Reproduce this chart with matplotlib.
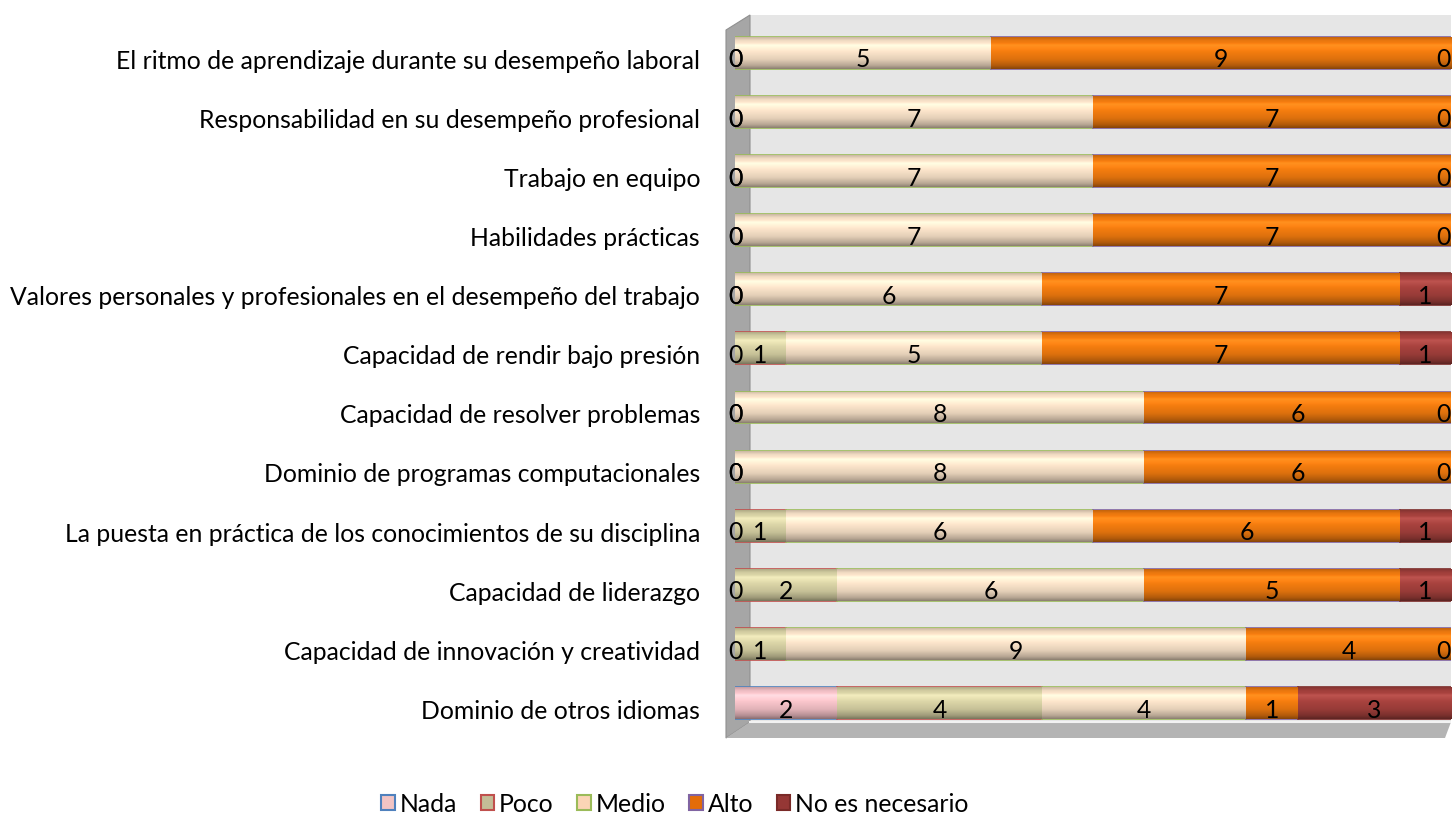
import numpy as np
import matplotlib
matplotlib.use('Agg')
import matplotlib.pyplot as plt
from matplotlib.patches import Patch, Polygon
from matplotlib.colors import to_rgb

plt.rcParams['font.family'] = ['Lato', 'DejaVu Sans']

# categories from top to bottom
categories = [
    'El ritmo de aprendizaje durante su desempeño laboral',
    'Responsabilidad en su desempeño profesional',
    'Trabajo en equipo',
    'Habilidades prácticas',
    'Valores personales y profesionales en el desempeño del trabajo',
    'Capacidad de rendir bajo presión',
    'Capacidad de resolver problemas',
    'Dominio de programas computacionales',
    'La puesta en práctica de los conocimientos de su disciplina',
    'Capacidad de liderazgo',
    'Capacidad de innovación y creatividad',
    'Dominio de otros idiomas',
]
series_names = ['Nada', 'Poco', 'Medio', 'Alto', 'No es necesario']
nada = [0, 0, 0, 0, 0, 0, 0, 0, 0, 0, 0, 2]
poco = [0, 0, 0, 0, 0, 1, 0, 0, 1, 2, 1, 4]
medio = [5, 7, 7, 7, 6, 5, 8, 8, 6, 6, 9, 4]
alto = [9, 7, 7, 7, 7, 7, 6, 6, 6, 5, 4, 1]
no_nec = [0, 0, 0, 0, 1, 1, 0, 0, 1, 1, 0, 3]

fills = ['#FAC6CC', '#DCD6A8', '#FDE6CC', '#F57D0F', '#A8423E']
edges = ['#4F81BD', '#C0504D', '#9BBB59', '#8064A2', '#7A2A28']
legend_fills = ['#F2C4C4', '#C4BD97', '#FBD5B5', '#E36C09', '#953735']

data = np.array([nada, poco, medio, alto, no_nec], dtype=float)
n = len(categories)
total = data.sum(axis=0).max()
ypos = np.arange(n)[::-1]
bar_h = 0.54
fs = 17.8
text_dy = -0.12  # labels sit a bit below the bar axis (3D view)

fig = plt.figure(figsize=(14.55, 8.17), dpi=100)
ax = fig.add_axes([735 / 1455, 1 - 738 / 817, 716 / 1455, 723 / 817])
ax.set_xlim(0, total)
ax.set_ylim(-0.59, n - 1 + 0.64)
ax.axis('off')

# 3D walls (axes fraction coords)
fy = 1 - (722 - 15) / 723.0
ax.add_patch(Polygon([(15 / 716, fy), (1, fy), (1, 1), (15 / 716, 1)], closed=True,
                     transform=ax.transAxes, facecolor='#E6E6E6', edgecolor='none', zorder=0))
ax.add_patch(Polygon([(-9 / 716, 0), (15 / 716, fy), (15 / 716, 1), (-9 / 716, 1 - 15 / 723)],
                     closed=True, transform=ax.transAxes, facecolor='#A6A6A6',
                     edgecolor='#909090', lw=0.8, zorder=0, clip_on=False))
ax.add_patch(Polygon([(-9 / 716, 0), (710 / 716, 0), (1, fy), (15 / 716, fy)], closed=True,
                     transform=ax.transAxes, facecolor='#B4B4B4', edgecolor='none',
                     zorder=0, clip_on=False))
ax.plot([15 / 716, 1], [fy, fy], color='#F2F2F2', lw=1.5, transform=ax.transAxes, zorder=0.5)

# cylinder shading profile (bottom -> top)
t = np.linspace(0, 1, 64)
shade = np.interp(t, [0, 0.1, 0.3, 0.55, 0.75, 0.9, 1.0],
                  [0.55, 0.72, 0.9, 1.0, 1.04, 0.95, 0.8])

left = np.zeros(n)
for k in range(len(series_names)):
    vals = data[k]
    bars = ax.barh(ypos, vals, left=left, height=bar_h, color=fills[k],
                   edgecolor=edges[k], linewidth=1.2, zorder=2)
    base = np.array(to_rgb(fills[k]))
    img = base[None, :] * shade[:, None]
    img = np.clip(img + np.clip(shade[:, None] - 1, 0, None) * 1.5, 0, 1)
    for b, v in zip(bars, vals):
        if v <= 0:
            continue
        x0, y0 = b.get_x(), b.get_y()
        im = ax.imshow(img[:, None, :], extent=(x0, x0 + b.get_width(), y0, y0 + b.get_height()),
                       origin='lower', aspect='auto', zorder=2.5, interpolation='bilinear')
        im.set_clip_path(b)
    for b, v, y in zip(bars, vals, ypos):
        xc = min(b.get_x() + b.get_width() / 2, total - 0.14)
        ax.text(xc, y + text_dy, '%d' % v, ha='center', va='center',
                fontsize=fs, color='black', zorder=4, clip_on=False)
    left = left + vals

for y, c in zip(ypos, categories):
    ax.text(-35 / 716 * total, y + text_dy - 0.02, c, ha='right', va='center', fontsize=fs,
            color='black', clip_on=False)

handles = [Patch(facecolor=f, edgecolor=e, linewidth=1.5) for f, e in zip(legend_fills, edges)]
fig.legend(handles, series_names, loc='center', bbox_to_anchor=(675 / 1455, 1 - 804 / 817),
           ncol=5, frameon=False, fontsize=fs, handlelength=0.55, handleheight=0.55,
           handletextpad=0.2, columnspacing=0.95)

fig.savefig('out.png', dpi=100)
